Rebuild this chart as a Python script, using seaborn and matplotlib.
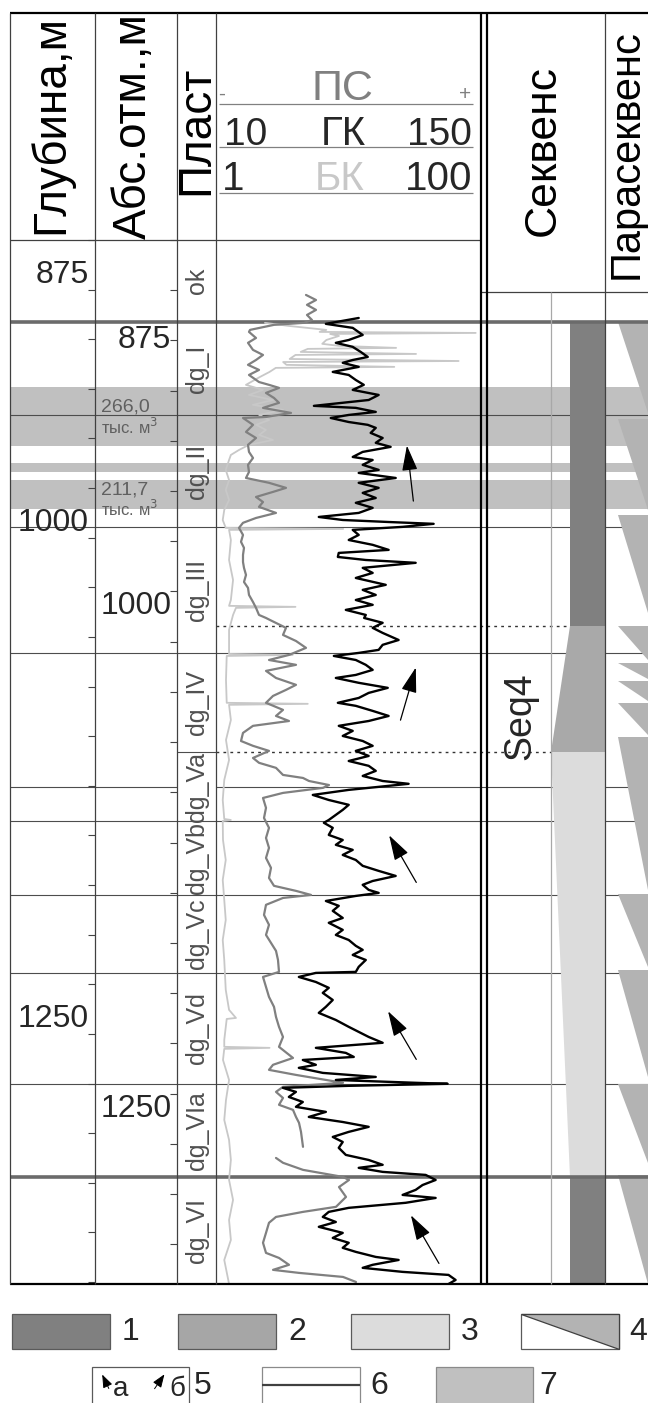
import numpy as np
import pandas as pd
import matplotlib
matplotlib.use('Agg')
import matplotlib.pyplot as plt
from matplotlib.patches import Rectangle, Polygon
import seaborn as sns

sns.set_style('white')
plt.rcParams['font.family'] = ['Liberation Sans', 'DejaVu Sans']

DEPTH_TOP, DEPTH_BOT = 859.2, 1376.0   # depth range of the panel, m
ABS_SHIFT = 31.2                       # depth - abs. mark, m

zone_names = ['ok', 'dg_I', 'dg_II', 'dg_III', 'dg_IV', 'dg_Va', 'dg_Vb',
              'dg_Vc', 'dg_Vd', 'dg_VIa', 'dg_VI']
zone_tops = [859.2, 899.8, 945.8, 1001.2, 1063.6, 1112.6, 1146.8,
             1183.4, 1222.0, 1277.0, 1323.0]
zone_bots = zone_tops[1:] + [1376.0]

full_lines = [945.8, 1001.2, 1063.6, 1146.8, 1183.4, 1222.0, 1277.0]
thick_lines = [899.8, 1323.0]
side_lines = [1130.0]            # not drawn in the layer column
dotted_lines = [1050.2, 1112.6]

# productive intervals (legend 7)
band_tops = [931.9, 969.6, 978.0]
band_bots = [961.1, 974.0, 992.3]
gas_values = ['266,0', '211,7']
gas_depths = [942.0, 983.0]

# sequence column: dark / medium / light / dark
seq_tops = [899.8, 1050.2, 1112.6, 1323.0]
seq_bots = [1050.2, 1112.6, 1323.0, 1376.0]
seq_colors = ['#808080', '#a9a9a9', '#dcdcdc', '#808080']

# parasequences
para_tops = [899.8, 947.8, 995.3, 1050.2, 1068.5, 1077.5, 1088.5, 1105.2,
             1182.9, 1220.5, 1276.9, 1321.9]
para_bots = [944.8, 992.8, 1043.8, 1067.1, 1076.5, 1087.5, 1104.2, 1180.9,
             1219.0, 1273.5, 1316.0, 1376.0]

# trend arrows (depth, GK units)
arrow_head_d = [959.6, 1069.5, 1152.7, 1239.8, 1340.8]
arrow_head_v = [113.4, 118.9, 103.0, 102.4, 115.0]
arrow_tail_d = [989.8, 1098.2, 1178.4, 1266.0, 1367.0]
arrow_tail_v = [117.3, 109.6, 119.5, 119.5, 132.0]

# ГК, gamma log
gk_depth = [897.8, 900.7, 902.7, 906.2, 908.7, 910.1, 912.1, 914.6, 917.1, 918.6,
            920.0, 922.0, 924.5, 926.0, 928.5, 930.9, 933.4, 935.9, 938.4, 941.3,
            942.3, 944.3, 945.8, 947.3, 949.3, 950.7, 952.2, 954.7, 957.2, 959.6,
            961.6, 964.1, 966.6, 968.1, 970.5, 973.0, 974.5, 977.0, 979.4, 981.9,
            984.4, 986.9, 989.3, 991.8, 994.3, 996.3, 997.8, 998.8, 999.7, 1001.2,
            1002.7, 1005.2, 1007.7, 1010.1, 1012.6, 1014.1, 1016.1, 1017.6, 1019.0, 1021.5,
            1024.0, 1026.5, 1029.9, 1032.4, 1034.9, 1037.4, 1039.8, 1042.3, 1044.8, 1046.3,
            1048.7, 1051.2, 1053.7, 1057.2, 1059.6, 1062.1, 1063.6, 1065.1, 1067.1, 1069.5,
            1072.0, 1074.5, 1076.0, 1078.4, 1080.9, 1083.4, 1085.9, 1088.3, 1089.8, 1092.3,
            1094.8, 1097.3, 1099.7, 1102.2, 1104.7, 1107.2, 1109.6, 1112.1, 1114.6, 1117.1,
            1119.5, 1122.0, 1124.5, 1127.0, 1128.4, 1129.4, 1131.4, 1133.9, 1136.4, 1138.8,
            1141.3, 1143.8, 1146.3, 1147.7, 1150.2, 1153.7, 1156.2, 1158.6, 1161.1, 1163.6,
            1166.1, 1169.0, 1171.5, 1174.0, 1176.5, 1178.4, 1180.9, 1182.4, 1183.9, 1186.4,
            1188.8, 1191.3, 1194.8, 1197.2, 1200.7, 1203.2, 1205.7, 1208.6, 1210.6, 1213.1,
            1215.6, 1219.0, 1221.5, 1222.0, 1224.0, 1226.5, 1229.4, 1231.9, 1235.4, 1238.8,
            1241.8, 1245.3, 1248.7, 1251.2, 1253.7, 1256.6, 1259.1, 1261.6, 1263.6, 1265.1,
            1267.5, 1269.0, 1271.5, 1273.5, 1275.0, 1276.4, 1276.9, 1277.9, 1278.9, 1280.9,
            1283.4, 1285.9, 1288.3, 1290.8, 1293.3, 1295.8, 1298.2, 1300.7, 1303.2, 1305.7,
            1308.6, 1312.1, 1314.6, 1317.0, 1318.5, 1320.5, 1322.0, 1324.5, 1327.0, 1329.4,
            1331.9, 1333.4, 1335.8, 1338.3, 1340.3, 1342.8, 1345.3, 1347.7, 1350.7, 1353.2,
            1355.6, 1358.1, 1360.1, 1362.6, 1364.1, 1366.5, 1368.0, 1370.0, 1371.5, 1374.0,
            1376.0]
gk_value = [87.0, 68.9, 83.7, 89.2, 81.5, 74.4, 83.7, 88.1, 92.0, 83.7,
            78.2, 87.0, 72.7, 81.5, 85.4, 89.8, 83.7, 98.0, 92.5, 62.3,
            85.4, 96.4, 81.5, 71.6, 81.5, 92.0, 96.4, 93.6, 100.2, 96.4,
            104.6, 89.2, 83.7, 94.7, 89.2, 98.0, 87.0, 107.4, 87.0, 98.0,
            89.2, 96.4, 85.4, 94.7, 87.0, 65.0, 78.2, 103.5, 128.3, 111.2,
            83.7, 87.0, 81.5, 94.7, 103.5, 76.0, 75.5, 90.9, 118.4, 89.2,
            94.7, 85.4, 101.9, 89.2, 96.4, 85.4, 94.7, 79.9, 90.9, 90.0,
            100.2, 94.7, 100.2, 109.0, 100.2, 98.0, 87.0, 73.3, 85.4, 90.9,
            94.7, 85.4, 74.4, 87.0, 103.0, 92.5, 87.0, 75.5, 85.4, 94.7,
            103.5, 92.5, 76.0, 83.7, 78.2, 89.2, 94.7, 85.4, 92.5, 81.5,
            92.5, 96.4, 89.2, 100.2, 114.5, 103.5, 81.5, 61.7, 70.5, 81.5,
            78.2, 74.4, 70.5, 67.8, 72.7, 70.5, 78.2, 74.4, 83.7, 78.2,
            85.4, 89.2, 98.0, 107.4, 94.7, 89.2, 92.5, 98.0, 85.4, 68.9,
            76.0, 72.7, 78.2, 70.5, 78.2, 74.4, 81.5, 85.4, 89.2, 83.7,
            90.9, 87.0, 85.4, 63.4, 54.0, 63.4, 70.5, 67.2, 72.7, 68.9,
            65.0, 74.4, 81.5, 87.0, 92.5, 100.2, 63.4, 79.9, 84.3, 56.2,
            63.4, 54.0, 67.2, 96.4, 74.4, 118.4, 136.0, 81.5, 45.2, 52.4,
            48.5, 56.2, 52.4, 68.9, 59.5, 78.2, 92.5, 81.5, 72.7, 78.2,
            76.0, 79.9, 92.5, 100.2, 87.0, 100.2, 123.9, 129.4, 122.2, 118.4,
            111.2, 129.4, 112.9, 81.5, 70.5, 67.2, 74.4, 65.0, 78.2, 72.7,
            81.5, 78.2, 85.4, 96.4, 109.0, 94.7, 89.2, 111.2, 136.5, 140.4,
            136.5]

# ПС, spontaneous potential, mV (two pieces, gap near 1310 m)
ps_depth = [886.4, 888.9, 891.3, 893.8, 896.3, 898.8, 900.2, 901.2, 903.7, 904.7,
            907.7, 910.1, 913.6, 916.1, 918.6, 921.0, 923.5, 926.0, 929.5, 930.9,
            932.4, 934.9, 937.4, 939.8, 942.3, 944.8, 946.8, 947.3, 950.7, 954.2,
            957.2, 960.6, 964.1, 967.1, 970.5, 974.0, 977.0, 979.4, 981.9, 983.9,
            986.4, 988.9, 991.3, 994.3, 996.8, 999.2, 1001.7, 1005.2, 1008.6, 1011.6,
            1015.1, 1018.6, 1021.5, 1025.0, 1028.5, 1031.4, 1034.9, 1038.4, 1041.3, 1044.8,
            1046.3, 1047.3, 1051.2, 1054.7, 1057.7, 1061.1, 1064.6, 1067.1, 1069.5, 1072.5,
            1076.0, 1079.4, 1081.9, 1084.9, 1088.3, 1091.8, 1094.8, 1097.3, 1099.7, 1103.2,
            1107.2, 1109.6, 1112.1, 1115.6, 1118.0, 1120.5, 1124.0, 1125.5, 1127.0, 1129.0,
            1130.4, 1132.9, 1135.4, 1140.3, 1145.3, 1150.2, 1155.2, 1160.1, 1165.1, 1170.0,
            1175.0, 1178.9, 1181.4, 1183.4, 1184.9, 1188.3, 1193.3, 1198.2, 1203.2, 1207.1,
            1211.1, 1215.6, 1221.5, 1224.0, 1228.9, 1233.9, 1238.8, 1243.8, 1248.7, 1253.7,
            1258.6, 1264.1, 1267.5, 1270.0, 1272.5, 1275.0, 1276.4, 1278.4, 1280.9, 1283.9,
            1287.3, 1289.8, 1293.3, 1296.2, 1300.7, 1308.1]
ps_value = [-45.2, -41.2, -44.8, -41.2, -44.8, -42.8, -46.0, -58.0, -67.6, -68.0,
            -65.2, -68.4, -66.4, -62.4, -65.2, -68.4, -64.0, -68.0, -64.0, -60.0,
            -56.0, -61.2, -58.0, -56.0, -62.4, -51.2, -61.2, -70.4, -66.4, -69.2,
            -65.2, -68.4, -68.0, -66.4, -68.4, -68.0, -69.2, -60.0, -53.2, -58.4,
            -65.2, -62.4, -64.0, -57.2, -65.2, -70.4, -72.0, -70.4, -71.2, -70.0,
            -70.4, -70.4, -70.0, -69.2, -70.0, -68.4, -68.0, -66.4, -65.2, -64.0,
            -61.2, -59.6, -53.2, -54.4, -49.2, -45.2, -52.0, -60.0, -49.2, -61.2,
            -57.2, -49.2, -53.2, -58.4, -61.2, -54.4, -57.2, -52.0, -66.4, -70.4,
            -71.2, -66.4, -60.0, -66.4, -64.0, -57.2, -54.4, -46.4, -44.0, -36.0,
            -38.4, -54.4, -62.4, -61.2, -62.0, -60.0, -61.2, -60.0, -61.2, -59.2,
            -60.0, -58.0, -49.2, -43.2, -54.4, -61.2, -62.0, -60.0, -61.2, -59.2,
            -57.2, -56.4, -56.0, -62.4, -61.2, -60.0, -58.0, -57.2, -56.0, -54.4,
            -56.0, -50.4, -58.4, -60.0, -49.2, -37.2, -30.4, -54.4, -57.2, -54.4,
            -56.0, -50.4, -49.2, -48.0, -47.2, -46.4]
ps2_depth = [1313.6, 1316.0, 1319.5, 1323.0, 1324.5, 1328.0, 1332.9, 1337.8, 1340.3, 1342.8,
             1345.7, 1350.7, 1355.6, 1360.6, 1363.1, 1366.5, 1369.0, 1370.5, 1372.5, 1375.0]
ps2_value = [-57.2, -54.4, -46.4, -30.4, -28.0, -32.0, -29.2, -33.2, -46.4, -57.2,
             -60.0, -61.2, -62.4, -61.2, -56.0, -52.0, -58.4, -48.0, -30.4, -25.2]

# БК, laterolog resistivity, Ohm*m
bk_depth = [900.2, 901.7, 903.7, 904.7, 905.2, 905.7, 906.7, 908.7, 910.6, 911.6,
            912.6, 913.1, 914.6, 915.6, 916.1, 918.1, 919.1, 919.6, 921.0, 922.0,
            922.5, 924.5, 927.0, 930.9, 933.4, 935.9, 938.4, 940.8, 943.3, 945.8,
            948.3, 950.7, 953.2, 955.7, 958.2, 960.6, 963.1, 965.6, 968.1, 973.0,
            978.0, 982.9, 987.9, 992.8, 997.8, 1001.7, 1002.2, 1002.7, 1007.7, 1017.6,
            1027.5, 1037.4, 1040.3, 1040.8, 1041.3, 1044.8, 1052.2, 1062.1, 1064.1, 1064.6,
            1065.1, 1077.0, 1088.3, 1088.8, 1089.3, 1096.8, 1106.7, 1116.6, 1126.5, 1136.4,
            1145.8, 1146.3, 1146.8, 1156.2, 1166.1, 1176.0, 1185.9, 1195.8, 1205.7, 1215.6,
            1230.4, 1240.3, 1244.3, 1244.8, 1255.2, 1258.6, 1259.1, 1259.6, 1265.1, 1275.0,
            1284.9, 1294.8, 1304.7, 1314.6, 1324.5, 1334.4, 1344.3, 1354.2, 1364.1, 1376.0]
bk_value = [2.3, 3.5, 7.0, 6.2, 105.0, 7.5, 8.8, 7.0, 6.5, 8.8,
            24.8, 5.0, 4.4, 35.6, 4.0, 3.6, 77.0, 3.2, 3.4, 24.0,
            2.8, 2.5, 2.1, 1.63, 2.22, 1.72, 2.66, 1.85, 3.19, 2.07,
            2.48, 1.96, 2.34, 2.07, 2.66, 1.72, 1.44, 1.24, 1.2, 1.13,
            1.2, 1.13, 1.2, 1.1, 1.07, 1.13, 9.5, 1.2, 1.24, 1.2,
            1.29, 1.24, 1.2, 4.0, 1.36, 1.29, 1.2, 1.2, 1.2, 3.8,
            1.15, 1.135, 1.15, 5.0, 1.2, 1.24, 1.135, 1.2, 1.1, 1.07,
            1.1, 1.24, 1.07, 1.075, 1.13, 1.07, 1.1, 1.13, 1.07, 1.1,
            1.13, 1.2, 1.36, 1.15, 1.1, 1.1, 2.5, 1.1, 1.075, 1.2,
            1.135, 1.1, 1.2, 1.24, 1.2, 1.29, 1.2, 1.24, 1.1, 1.2]

# ---------------- figure ----------------
W, H = 648.0, 1403.0
fig = plt.figure(figsize=(6.48, 14.03), dpi=100)
fig.patch.set_facecolor('white')


def px_axes(x0, y0, x1, y1):
    return fig.add_axes([x0 / W, 1 - y1 / H, (x1 - x0) / W, (y1 - y0) / H])


# depth panel: x in pixels of the table, y in metres
ax_d = px_axes(10, 240, 648, 1284)
ax_d.set_xlim(10, 648)
ax_d.set_ylim(DEPTH_BOT, DEPTH_TOP)
ax_d.axis('off')

for t, b in zip(band_tops, band_bots):
    ax_d.axhspan(b, t, color='#c0c0c0', lw=0, zorder=0)

ax_d.hlines(full_lines, 10, 648, colors='#4d4d4d', lw=0.8, zorder=1)
ax_d.hlines(side_lines, 10, 177, colors='#4d4d4d', lw=0.8, zorder=1)
ax_d.hlines(side_lines, 216, 648, colors='#4d4d4d', lw=0.8, zorder=1)
ax_d.hlines(dotted_lines[1], 177, 216, colors='#4d4d4d', lw=0.8, zorder=1)
ax_d.hlines(dotted_lines[0], 216, 570, colors='#333333', lw=1.0,
            linestyles=(0, (2, 3)), zorder=1)
ax_d.hlines(dotted_lines[1], 216, 551, colors='#333333', lw=1.0,
            linestyles=(0, (2, 3)), zorder=1)

seq_left_top = [570, 570, 551, 570]
seq_left_bot = [570, 551, 570, 570]
for t, b, c, lt, lb in zip(seq_tops, seq_bots, seq_colors, seq_left_top, seq_left_bot):
    ax_d.fill([lt, 605, 605, lb], [t, t, b, b], color=c, lw=0, zorder=2)

for t, b in zip(para_tops, para_bots):
    ax_d.fill([618, 648, 648], [t, t, b], color='#b3b3b3', lw=0, zorder=2)

ax_d.hlines(thick_lines, 10, 648, colors='#6b6b6b', lw=2.6, zorder=3)

for name, t, b in zip(zone_names, zone_tops, zone_bots):
    ax_d.text(197, (t + b) / 2, name, rotation=90, ha='center', va='center',
              fontsize=18, color='#505050', zorder=4)

for val, d in zip(gas_values, gas_depths):
    ax_d.text(101, d, val, ha='left', va='center', fontsize=14, color='#606060')
    ax_d.text(101, d + 9.5, 'тыс. м$^3$', ha='left', va='center', fontsize=12,
              color='#606060')

# depth / abs ticks
ax_dep = px_axes(10, 240, 95, 1284)
ax_abs = px_axes(95, 240, 177, 1284)
ax_dep.set_ylim(DEPTH_BOT, DEPTH_TOP)
ax_abs.set_ylim(DEPTH_BOT - ABS_SHIFT, DEPTH_TOP - ABS_SHIFT)
ax_dep.set_yticks(np.arange(850, 1376, 25))
ax_abs.set_yticks(np.arange(825, 1350, 25))
for a in (ax_dep, ax_abs):
    a.patch.set_alpha(0)
    a.set_xticks([])
    for s in a.spines.values():
        s.set_visible(False)
    a.yaxis.tick_right()
    a.tick_params(axis='y', direction='in', length=5, width=0.8, color='#444444',
                  labelright=False, labelleft=False)

for d in [875, 1000, 1250]:
    ax_dep.text(0.93, d, str(d), transform=ax_dep.get_yaxis_transform(),
                ha='right', va='bottom', fontsize=23)
for d, va in zip([875, 1000, 1250], ['center', 'top', 'top']):
    ax_abs.text(0.93, d, str(d), transform=ax_abs.get_yaxis_transform(),
                ha='right', va=va, fontsize=23)

# log curves
ax_bk = px_axes(216, 240, 481, 1284)
ax_bk.set_xscale('log')
ax_ps = ax_bk.twiny()
ax_gk = ax_bk.twiny()

sns.lineplot(x=bk_value, y=bk_depth, ax=ax_bk, sort=False, estimator=None,
             color='#c8c8c8', lw=1.3)
sns.lineplot(x=ps_value, y=ps_depth, ax=ax_ps, sort=False, estimator=None,
             color='#808080', lw=1.6)
sns.lineplot(x=ps2_value, y=ps2_depth, ax=ax_ps, sort=False, estimator=None,
             color='#808080', lw=1.6)
sns.lineplot(x=gk_value, y=gk_depth, ax=ax_gk, sort=False, estimator=None,
             color='black', lw=1.7)

ax_bk.set_xlim(0.947, 115.6)
ax_ps.set_xlim(-81.2, 24.8)
ax_gk.set_xlim(8.35, 154.4)
ax_bk.set_ylim(DEPTH_BOT, DEPTH_TOP)
for a in (ax_bk, ax_ps, ax_gk):
    a.axis('off')

for hd, hv, td, tv in zip(arrow_head_d, arrow_head_v, arrow_tail_d, arrow_tail_v):
    ax_gk.annotate('', xy=(hv, hd), xytext=(tv, td),
                   arrowprops=dict(arrowstyle='-|>,head_length=1.3,head_width=0.4',
                                   color='black', lw=0.9, mutation_scale=12))

# ---------------- table frame, header, legend ----------------
ax_bg = fig.add_axes([0, 0, 1, 1])
ax_bg.set_xlim(0, W)
ax_bg.set_ylim(H, 0)
ax_bg.axis('off')

ax_bg.hlines(13, 10, 648, colors='black', lw=1.6)
ax_bg.hlines(1284, 10, 648, colors='black', lw=1.6)
ax_bg.hlines(240, 10, 481, colors='#404040', lw=0.9)
ax_bg.hlines(292, 481, 648, colors='#404040', lw=0.9)
ax_bg.vlines([10, 95, 177, 216, 605], 13, 1284, colors='#404040', lw=0.9)
ax_bg.vlines([481, 487], 13, 1284, colors='black', lw=1.6)
ax_bg.vlines(551, 292, 1284, colors='#a8a8a8', lw=0.9)

head_kw = dict(rotation=90, ha='center', va='center', color='black')
ax_bg.text(51, 125, 'Глубина,м', fontsize=33, **head_kw)
ax_bg.text(134, 126, 'Абс.отм.,м', fontsize=33, **head_kw)
ax_bg.text(196, 130, 'Пласт', fontsize=33, **head_kw)
ax_bg.text(543, 151, 'Секвенс', fontsize=32, **head_kw)
ax_bg.text(627, 154, 'Парасеквенс', fontsize=30, **head_kw)

ax_bg.hlines([104, 147, 193], 219, 473, colors='#808080', lw=0.9)
ax_bg.text(342, 100, 'ПС', ha='center', va='baseline', fontsize=31, color='#808080')
ax_bg.text(222, 100, '-', ha='center', va='baseline', fontsize=15, color='#808080')
ax_bg.text(465, 100, '+', ha='center', va='baseline', fontsize=15, color='#808080')
ax_bg.text(224, 145, '10', ha='left', va='baseline', fontsize=28)
ax_bg.text(343, 145, 'ГК', ha='center', va='baseline', fontsize=29)
ax_bg.text(472, 145, '150', ha='right', va='baseline', fontsize=28)
ax_bg.text(222, 190, '1', ha='left', va='baseline', fontsize=29)
ax_bg.text(340, 190, 'БК', ha='center', va='baseline', fontsize=29, color='#c8c8c8')
ax_bg.text(472, 190, '100', ha='right', va='baseline', fontsize=29)

ax_bg.text(520, 716, 'Seq4', rotation=90, ha='center', va='center', fontsize=27)

# legend
leg_fill = ['#808080', '#a6a6a6', '#dcdcdc']
leg_x = [12, 178, 351]
for i, (x, c) in enumerate(zip(leg_x, leg_fill)):
    ax_bg.add_patch(Rectangle((x, 1314), 98, 35, facecolor=c, edgecolor='#5a5a5a', lw=0.9))
    ax_bg.text(x + 110, 1332, str(i + 1), ha='left', va='center', fontsize=23)
ax_bg.add_patch(Rectangle((521, 1314), 98, 35, facecolor='white', edgecolor='#5a5a5a', lw=0.9))
ax_bg.add_patch(Polygon([(521, 1314), (619, 1314), (619, 1349)], closed=True,
                        facecolor='#b3b3b3', edgecolor='#404040', lw=0.9))
ax_bg.text(629, 1332, '4', ha='left', va='center', fontsize=23)

ax_bg.add_patch(Rectangle((92, 1367), 97, 40, facecolor='white', edgecolor='#5a5a5a', lw=0.9))
ax_bg.annotate('', xy=(101, 1372), xytext=(110, 1391),
               arrowprops=dict(arrowstyle='-|>,head_length=0.8,head_width=0.3',
                               color='black', lw=0.7, mutation_scale=10))
ax_bg.text(113, 1396, 'а', ha='left', va='baseline', fontsize=20)
ax_bg.annotate('', xy=(166, 1372), xytext=(153, 1391),
               arrowprops=dict(arrowstyle='-|>,head_length=0.8,head_width=0.3',
                               color='black', lw=0.7, mutation_scale=10))
ax_bg.text(169, 1396, 'б', ha='left', va='baseline', fontsize=20)
ax_bg.text(194, 1386, '5', ha='left', va='center', fontsize=23)

ax_bg.add_patch(Rectangle((262, 1367), 98, 40, facecolor='white', edgecolor='#8a8a8a', lw=0.9))
ax_bg.hlines(1385, 262, 360, colors='#404040', lw=1.6)
ax_bg.text(370, 1386, '6', ha='left', va='center', fontsize=23)

ax_bg.add_patch(Rectangle((436, 1367), 97, 40, facecolor='#c0c0c0', edgecolor='#8a8a8a', lw=0.9))
ax_bg.text(539, 1386, '7', ha='left', va='center', fontsize=23)

fig.savefig('out.png', dpi=100, facecolor='white')
